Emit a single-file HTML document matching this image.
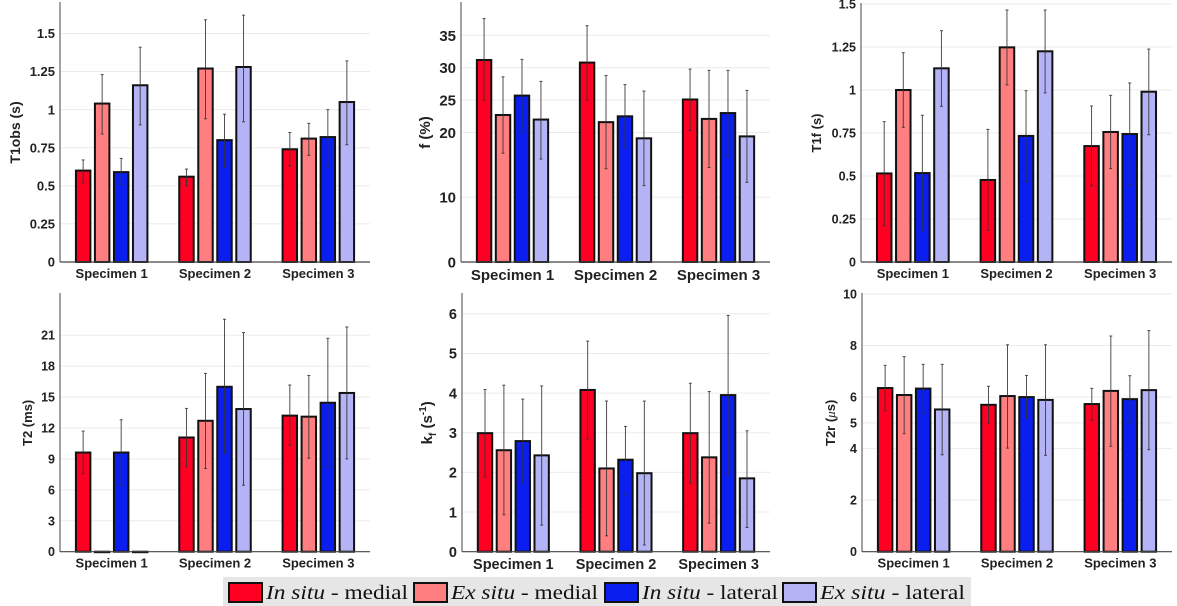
<!DOCTYPE html>
<html><head><meta charset="utf-8">
<style>
html,body{margin:0;padding:0;background:#fff;}
body{width:1177px;height:606px;overflow:hidden;position:relative;}
svg{position:absolute;left:0;top:0;}
</style></head>
<body>
<svg id="chart" width="1177" height="606" viewBox="0 0 1177 606" xmlns="http://www.w3.org/2000/svg"></svg>
<script>
const categories = ["Specimen 1","Specimen 2","Specimen 3"];
const seriesNames = ["In situ - medial","Ex situ - medial","In situ - lateral","Ex situ - lateral"];

// T1obs (s)
const t1obsVals = [[0.60,1.04,0.59,1.16],[0.56,1.27,0.80,1.28],[0.74,0.81,0.82,1.05]];
const t1obsLo   = [[0.52,0.84,0.51,0.90],[0.50,0.94,0.62,0.92],[0.63,0.70,0.63,0.77]];
const t1obsHi   = [[0.67,1.23,0.68,1.41],[0.61,1.59,0.97,1.62],[0.85,0.91,1.00,1.32]];
const t1obsTicks = [0,0.25,0.5,0.75,1,1.25,1.5];
const t1obsTickLabels = ["0","0.25","0.5","0.75","1","1.25","1.5"];

// f (%)
const fVals = [[31.2,22.7,25.7,22.0],[30.8,21.6,22.5,19.1],[25.1,22.1,23.0,19.4]];
const fLo   = [[25.0,16.8,20.0,15.9],[25.0,14.4,17.6,11.8],[20.3,14.6,16.3,12.3]];
const fHi   = [[37.6,28.6,31.3,27.9],[36.5,28.8,27.4,26.4],[29.8,29.6,29.6,26.5]];
const fTicks = [0,10,20,25,30,35];
const fTickLabels = ["0","10","20","25","30","35"];

// T1f (s)
const t1fVals = [[0.515,1.0,0.517,1.126],[0.477,1.248,0.733,1.225],[0.674,0.756,0.744,0.99]];
const t1fLo   = [[0.21,0.783,0.182,0.905],[0.184,1.029,0.467,0.983],[0.442,0.543,0.446,0.74]];
const t1fHi   = [[0.816,1.217,0.853,1.345],[0.771,1.465,0.996,1.465],[0.907,0.969,1.041,1.238]];
const t1fTicks = [0,0.25,0.5,0.75,1,1.25,1.5];
const t1fTickLabels = ["0","0.25","0.5","0.75","1","1.25","1.5"];

// T2 (ms)
const t2Vals = [[9.62,0,9.62,0],[11.08,12.7,16.0,13.84],[13.2,13.1,14.45,15.4]];
const t2Lo   = [[7.55,null,6.45,null],[8.23,8.07,9.5,6.45],[10.34,9.07,8.2,9.0]];
const t2Hi   = [[11.7,null,12.8,null],[13.9,17.3,22.55,21.26],[16.17,17.1,20.7,21.8]];
const t2Ticks = [0,3,6,9,12,15,18,21];
const t2TickLabels = ["0","3","6","9","12","15","18","21"];

// kf (s^-1)
const kfVals = [[2.99,2.56,2.79,2.43],[4.08,2.10,2.32,1.98],[2.99,2.38,3.95,1.85]];
const kfLo   = [[1.88,0.93,1.73,0.67],[2.85,0.40,1.45,0.17],[1.73,0.72,1.93,0.61]];
const kfHi   = [[4.09,4.20,3.85,4.18],[5.31,3.80,3.16,3.80],[4.25,4.04,5.96,3.05]];
const kfTicks = [0,1,2,3,4,5,6];
const kfTickLabels = ["0","1","2","3","4","5","6"];

// T2r (us)
const t2rVals = [[6.35,6.08,6.33,5.52],[5.70,6.04,6.0,5.89],[5.73,6.24,5.92,6.27]];
const t2rLo   = [[5.47,4.58,5.38,3.76],[4.99,4.02,5.16,3.74],[5.10,4.09,5.02,3.96]];
const t2rHi   = [[7.23,7.57,7.27,7.27],[6.42,8.03,6.84,8.03],[6.34,8.37,6.83,8.58]];
const t2rTicks = [0,2,4,5,6,8,10];
const t2rTickLabels = ["0","2","4","5","6","8","10"];

const colors = ["#ff0022","#ff7f80","#0a1ef0","#b3b3f5"];
const NS = "http://www.w3.org/2000/svg";
const svg = document.getElementById("chart");
function mk(tag, attrs, parent){
  const e = document.createElementNS(NS, tag);
  for (const k in attrs) e.setAttribute(k, attrs[k]);
  (parent||svg).appendChild(e);
  return e;
}

function panel(cfg){
  const g = mk("g", {});
  
  
  const y = v => cfg.y0 - (v/cfg.ymax)*(cfg.y0-cfg.ytop);
  const x = c => cfg.x0 + (c+0.5)/3*(cfg.x1-cfg.x0);
  const gw = (cfg.x1-cfg.x0)/3;
  cfg.ticks.forEach((t,i)=>{
    if (t>0){
      const gl = mk("line",{x1:cfg.x0,x2:cfg.x1,y1:y(t),y2:y(t),stroke:"#ebebeb","stroke-width":1},g);
      
      
    }
    const tl = mk("text",{x:cfg.x0-5,y:y(t)+cfg.fs*0.36,"text-anchor":"end","font-family":"Liberation Sans, sans-serif","font-weight":"bold","font-size":cfg.fs,fill:"#222"},g);
    tl.textContent = cfg.tickLabels[i];
    
    
  });
  cfg.vals.forEach((grp,ci)=>{
    grp.forEach((v,si)=>{
      const cx = x(ci) + (si-1.5)*0.184*gw;
      const w = 0.14*gw;
      const top = y(v);
      const r = mk("rect",{x:cx-w/2,y:top,width:w,height:Math.max(cfg.y0-top,0.5),fill:colors[si],stroke:"#111","stroke-width":2},g);
      
      
      const lo = cfg.lo[ci][si], hi = cfg.hi[ci][si];
      if (lo!=null && hi!=null){
        const eg = mk("g",{stroke:"#333","stroke-width":1,"stroke-opacity":0.85},g);
        
        
        mk("line",{x1:cx,x2:cx,y1:y(lo),y2:y(hi)},eg);
        mk("line",{x1:cx-1.5,x2:cx+1.5,y1:y(lo),y2:y(lo)},eg);
        mk("line",{x1:cx-1.5,x2:cx+1.5,y1:y(hi),y2:y(hi)},eg);
      }
    });
    const xl = mk("text",{x:x(ci),y:cfg.y0+cfg.xfs+3,"text-anchor":"middle","font-family":"Liberation Sans, sans-serif","font-weight":"bold","font-size":cfg.xfs,fill:"#222"},g);
    xl.textContent = categories[ci];
    
    
  });
  const ya = mk("line",{x1:cfg.x0,x2:cfg.x0,y1:cfg.ytop-1,y2:cfg.y0,stroke:"#444","stroke-width":1},g);
  
  
  const xa = mk("line",{x1:cfg.x0,x2:cfg.x1,y1:cfg.y0,y2:cfg.y0,stroke:"#444","stroke-width":1.2},g);
  
  
  const cy = (cfg.y0+cfg.ytop)/2;
  const yt = mk("text",{x:cfg.lx,y:cy,transform:"rotate(-90 "+cfg.lx+" "+cy+")","text-anchor":"middle","font-family":"Liberation Sans, sans-serif","font-weight":"bold","font-size":cfg.lfs,fill:"#222"},g);
  yt.innerHTML = cfg.label;
  
  
}

panel({name:"t1obs-panel",x0:60,x1:370,y0:262,ytop:3,ymax:1.70,ticks:t1obsTicks,tickLabels:t1obsTickLabels,vals:t1obsVals,lo:t1obsLo,hi:t1obsHi,fs:13,xfs:13,lfs:14,lx:20,label:"T1obs (s)"});
panel({name:"f-panel",x0:461,x1:770,y0:262,ytop:3,ymax:40,ticks:fTicks,tickLabels:fTickLabels,vals:fVals,lo:fLo,hi:fHi,fs:15,xfs:15,lfs:15,lx:430,label:"f (%)"});
panel({name:"t1f-panel",x0:861,x1:1172,y0:262,ytop:4,ymax:1.5,ticks:t1fTicks,tickLabels:t1fTickLabels,vals:t1fVals,lo:t1fLo,hi:t1fHi,fs:12.5,xfs:13,lfs:13,lx:821,label:"T1f (s)"});
panel({name:"t2-panel",x0:60,x1:370,y0:551.7,ytop:294,ymax:25,ticks:t2Ticks,tickLabels:t2TickLabels,vals:t2Vals,lo:t2Lo,hi:t2Hi,fs:12.5,xfs:13,lfs:13,lx:32,label:"T2 (ms)"});
panel({name:"kf-panel",x0:462,x1:770,y0:551.7,ytop:294,ymax:6.5,ticks:kfTicks,tickLabels:kfTickLabels,vals:kfVals,lo:kfLo,hi:kfHi,fs:14.5,xfs:14.5,lfs:15,lx:432,label:"k<tspan font-size='10' dy='4'>f</tspan><tspan dy='-4'> (s</tspan><tspan font-size='10' dy='-6'>-1</tspan><tspan dy='6'>)</tspan>"});
panel({name:"t2r-panel",x0:862,x1:1172,y0:551.7,ytop:294,ymax:10,ticks:t2rTicks,tickLabels:t2rTickLabels,vals:t2rVals,lo:t2rLo,hi:t2rHi,fs:12.5,xfs:13,lfs:13,lx:835,label:"T2r (<tspan font-style='italic' font-family='Liberation Serif, serif' font-weight='normal'>μ</tspan>s)"});

const lg = mk("g",{});


mk("rect",{x:223,y:577,width:748,height:29,fill:"#e6e6e6"},lg);
const legX = [229,414,605,783];
const legLen = [142,147,136,145];
const legParts = [["In situ"," - medial"],["Ex situ"," - medial"],["In situ"," - lateral"],["Ex situ"," - lateral"]];
legX.forEach((lx,i)=>{
  const e = mk("g",{},lg);
  
  
  mk("rect",{x:lx,y:583,width:33,height:19,fill:colors[i],stroke:"#111","stroke-width":2},e);
  const t = mk("text",{x:lx+37,y:599,"font-family":"Liberation Serif, serif","font-size":20,fill:"#111",textLength:legLen[i],lengthAdjust:"spacingAndGlyphs"},e);
  const a = mk("tspan",{"font-style":"italic"},t); a.textContent = legParts[i][0];
  const b = mk("tspan",{},t); b.textContent = legParts[i][1];
});
</script>
</body></html>
